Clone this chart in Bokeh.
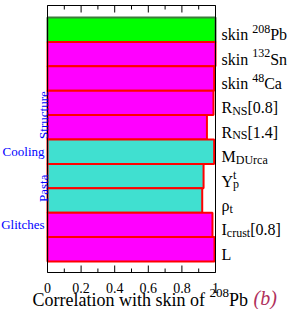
from bokeh.plotting import figure
from bokeh.models import Range1d, ColumnDataSource
from bokeh.core.properties import value
from bokeh.embed import file_html
from bokeh.resources import INLINE

# ---- data (top to bottom) ----
categories = ["skin 208Pb", "skin 132Sn", "skin 48Ca", "RNS[0.8]", "RNS[1.4]",
              "MDUrca", "Ypt", "rho_t", "Icrust[0.8]", "L"]
correlations = [1.0, 1.0, 0.992, 0.988, 0.949, 0.992, 0.929, 0.921, 0.982, 0.994]
fill_colors = ["#00FF00"] + ["#FF00FF"] * 4 + ["#40E0D0"] * 3 + ["#FF00FF"] * 2
edge_colors = ["#3A7D3A"] + ["#FF0000"] * 9
label_parts = [
    [("skin ", "n"), ("208", "sup"), ("Pb", "n")],
    [("skin ", "n"), ("132", "sup"), ("Sn", "n")],
    [("skin ", "n"), ("48", "sup"), ("Ca", "n")],
    [("R", "n"), ("NS", "sub"), ("[0.8]", "n")],
    [("R", "n"), ("NS", "sub"), ("[1.4]", "n")],
    [("M", "n"), ("DUrca", "sub")],
    [("Y", "n"), ("p", "substack"), ("t", "sup")],
    [("ρ", "n"), ("t", "sub")],
    [("I", "n"), ("crust", "sub"), ("[0.8]", "n")],
    [("L", "n")],
]
group_names = ["Structure", "Cooling", "Pasta", "Glitches"]
group_y = [5.5, 4.0, 2.5, 1.0]
group_rotated = [True, False, True, False]
x_major = [0, 0.2, 0.4, 0.6, 0.8, 1]
x_major_labels = ["0", "0.2", "0.4", "0.6", "0.8", "1"]
x_minor = [0.1, 0.3, 0.5, 0.7, 0.9]
x_label_parts = [("Correlation with skin of ", "n"), ("208", "sup"), ("Pb", "n")]
panel_tag = "(b)"

y_vals = [len(categories) - 1 - i for i in range(len(categories))]

FONT = "Liberation Serif"
W = {' ': 250, 's': 389, 'k': 500, 'i': 278, 'n': 500, 'P': 556, 'b': 500, 'S': 556,
     'C': 667, 'a': 444, 'R': 667, 'N': 722, '[': 333, ']': 333, '.': 250, 'M': 889,
     'D': 722, 'U': 722, 'r': 333, 'c': 444, 'Y': 722, 'p': 500, 't': 278, 'ρ': 500,
     'I': 333, 'u': 500, 'L': 611, 'o': 500, 'e': 444, 'l': 278, 'w': 722, 'h': 500,
     'f': 333}


def tw(s, size):
    return sum(W.get(ch, 500) for ch in s) * size / 1000.0


# ---- geometry: the plotting frame covers the whole canvas so that all texts are inside it
FIG_W, FIG_H = 291, 309
BOX_L, BOX_W = 47, 168          # px of box left / width inside the canvas
BOX_TOP, BOX_H = 5, 267         # px of box top / height inside the canvas
BAR_GAP, UNIT = 12, 24.4        # px between box top and first bar, px per category
x_start = -BOX_L / BOX_W
x_end = 1 + (FIG_W - BOX_L - BOX_W) / BOX_W
box_top = (len(categories) - 0.5) + BAR_GAP / UNIT
y_end = box_top + BOX_TOP / UNIT
y_start = y_end - FIG_H / UNIT
box_bottom = box_top - BOX_H / UNIT


def below(px):
    """data y that lies px pixels under the box bottom"""
    return box_bottom - px / UNIT


p = figure(width=FIG_W, height=FIG_H, output_backend="svg", toolbar_location=None,
           title=None, x_range=Range1d(x_start, x_end), y_range=Range1d(y_start, y_end),
           x_axis_location=None, y_axis_location=None,
           min_border_left=0, min_border_right=0, min_border_top=0, min_border_bottom=0)
p.grid.visible = False
p.outline_line_color = None
p.background_fill_color = "white"
p.border_fill_color = "white"

src = ColumnDataSource(dict(y=y_vals, right=correlations, fill=fill_colors, edge=edge_colors))
p.hbar(y="y", left=0, right="right", height=1.0, fill_color="fill", line_color="edge",
       line_width=2, source=src)

# box around the bars (x from 0 to 1)
p.quad(left=[x_major[0]], right=[x_major[-1]], bottom=[box_bottom], top=[box_top],
       fill_color=None, line_color="black", line_width=1)

# inward ticks on bottom and top edges
for yb, ang in ((box_bottom, 90), (box_top, -90)):
    p.ray(x=x_major, y=[yb] * len(x_major), length=7, length_units="screen",
          angle=ang, angle_units="deg", line_color="black", line_width=1)
    p.ray(x=x_minor, y=[yb] * len(x_minor), length=4, length_units="screen",
          angle=ang, angle_units="deg", line_color="black", line_width=1)

# tick labels
p.text(x=x_major, y=[below(15)] * len(x_major), text=x_major_labels,
       text_font=value(FONT), text_font_size=value("14px"), text_color="black",
       text_align="center", text_baseline="alphabetic")

# right-hand category labels
MAIN, SMALL = 16, 12
rx, ry, rt, rxo, ryo, rs = [], [], [], [], [], []
for parts, yv in zip(label_parts, y_vals):
    xo = 6.0
    for txt, kind in parts:
        if kind == "n":
            size, dy = MAIN, 0
        elif kind == "sup":
            size, dy = SMALL, -6
        else:
            size, dy = SMALL, 3
        rx.append(1.0); ry.append(yv); rt.append(txt)
        rxo.append(xo); ryo.append(5 + dy); rs.append(f"{size}px")
        if kind != "substack":
            xo += tw(txt, size)
p.text(x="x", y="y", text="t", x_offset="xo", y_offset="yo", text_font_size="s",
       source=ColumnDataSource(dict(x=rx, y=ry, t=rt, xo=rxo, yo=ryo, s=rs)),
       text_font=value(FONT), text_color="black", text_align="left",
       text_baseline="alphabetic")

# left group labels
for name, gy, rot in zip(group_names, group_y, group_rotated):
    if rot:
        p.text(x=[0], y=[gy], text=[name], x_offset=-4, angle=90, angle_units="deg",
               text_font=value(FONT), text_font_size=value("13px"), text_color="blue",
               text_align="center", text_baseline="alphabetic")
    else:
        p.text(x=[0], y=[gy], text=[name], x_offset=-3,
               text_font=value(FONT), text_font_size=value("13px"), text_color="blue",
               text_align="right", text_baseline="middle")

# x-axis title
xo = -15.0
for txt, kind in x_label_parts:
    size, dy = (18, 0) if kind == "n" else (13, 7)
    p.text(x=[0], y=[below(27 - dy)], text=[txt], x_offset=xo,
           text_font=value(FONT), text_font_size=value(f"{size}px"), text_color="black",
           text_align="left", text_baseline="alphabetic")
    xo += tw(txt, size)

p.text(x=[1], y=[below(25)], text=[panel_tag], x_offset=38,
       text_font=value(FONT), text_font_style="italic", text_font_size=value("20px"),
       text_color="#B0305C", text_align="left", text_baseline="alphabetic")

open("out.html", "w").write(file_html(p, INLINE))
